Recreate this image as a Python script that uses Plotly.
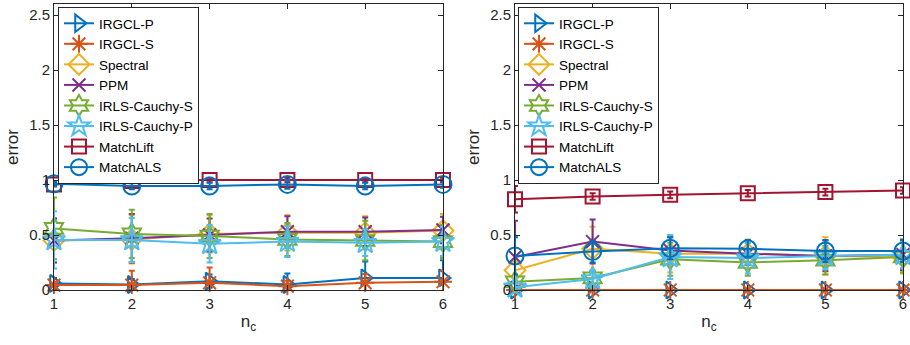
import plotly.graph_objects as go
from plotly.subplots import make_subplots

nc = [1, 2, 3, 4, 5, 6]
methods = ["IRGCL-P", "IRGCL-S", "Spectral", "PPM", "IRLS-Cauchy-S",
           "IRLS-Cauchy-P", "MatchLift", "MatchALS"]

# left panel: mean error and error-bar half widths
left_mean = {
    "IRGCL-P":       [0.06, 0.05, 0.08, 0.05, 0.11, 0.11],
    "IRGCL-S":       [0.045, 0.045, 0.065, 0.035, 0.065, 0.075],
    "Spectral":      [0.45, 0.46, 0.51, 0.52, 0.52, 0.54],
    "PPM":           [0.45, 0.47, 0.50, 0.53, 0.53, 0.545],
    "IRLS-Cauchy-S": [0.56, 0.51, 0.49, 0.46, 0.45, 0.44],
    "IRLS-Cauchy-P": [0.455, 0.455, 0.42, 0.44, 0.43, 0.44],
    "MatchLift":     [0.96, 0.99, 1.0, 1.0, 1.0, 1.0],
    "MatchALS":      [0.965, 0.945, 0.945, 0.96, 0.945, 0.96],
}
left_err = {
    "IRGCL-P":       [0.05, 0.05, 0.06, 0.10, 0.15, 0.16],
    "IRGCL-S":       [0.03, 0.13, 0.14, 0.05, 0.08, 0.10],
    "Spectral":      [0.20, 0.22, 0.17, 0.16, 0.15, 0.15],
    "PPM":           [0.20, 0.22, 0.15, 0.14, 0.13, 0.12],
    "IRLS-Cauchy-S": [0.28, 0.22, 0.20, 0.15, 0.18, 0.15],
    "IRLS-Cauchy-P": [0.26, 0.20, 0.17, 0.14, 0.12, 0.13],
    "MatchLift":     [0.02, 0.02, 0.02, 0.02, 0.02, 0.02],
    "MatchALS":      [0.02, 0.03, 0.03, 0.04, 0.03, 0.03],
}
# right panel
right_mean = {
    "IRGCL-P":       [0.0, 0.0, 0.0, 0.0, 0.0, 0.0],
    "IRGCL-S":       [0.0, 0.0, 0.0, 0.0, 0.0, 0.0],
    "Spectral":      [0.18, 0.375, 0.33, 0.33, 0.31, 0.30],
    "PPM":           [0.30, 0.44, 0.36, 0.33, 0.31, 0.32],
    "IRLS-Cauchy-S": [0.075, 0.11, 0.28, 0.25, 0.27, 0.30],
    "IRLS-Cauchy-P": [0.025, 0.10, 0.30, 0.29, 0.31, 0.32],
    "MatchLift":     [0.825, 0.85, 0.865, 0.88, 0.89, 0.905],
    "MatchALS":      [0.31, 0.35, 0.38, 0.375, 0.355, 0.355],
}
right_err = {
    "IRGCL-P":       [0.003, 0.003, 0.003, 0.003, 0.003, 0.003],
    "IRGCL-S":       [0.003, 0.003, 0.003, 0.003, 0.003, 0.003],
    "Spectral":      [0.10, 0.20, 0.17, 0.13, 0.17, 0.15],
    "PPM":           [0.33, 0.20, 0.12, 0.10, 0.14, 0.14],
    "IRLS-Cauchy-S": [0.05, 0.05, 0.15, 0.12, 0.13, 0.14],
    "IRLS-Cauchy-P": [0.03, 0.08, 0.20, 0.14, 0.12, 0.12],
    "MatchLift":     [0.12, 0.03, 0.03, 0.03, 0.03, 0.03],
    "MatchALS":      [0.17, 0.10, 0.10, 0.08, 0.10, 0.10],
}

colors = {
    "IRGCL-P": "#0072BD", "IRGCL-S": "#D95319", "Spectral": "#EDB120",
    "PPM": "#7E2F8E", "IRLS-Cauchy-S": "#77AC30", "IRLS-Cauchy-P": "#4DBEEE",
    "MatchLift": "#A2142F", "MatchALS": "#0072BD",
}
symbols = {
    "IRGCL-P": "triangle-right-open", "IRGCL-S": "asterisk-open",
    "Spectral": "diamond-open", "PPM": "x-thin-open",
    "IRLS-Cauchy-S": "hexagram-open", "IRLS-Cauchy-P": "star-open",
    "MatchLift": "square-open", "MatchALS": "circle-open",
}
sizes = {
    "IRGCL-P": 15, "IRGCL-S": 15, "Spectral": 16, "PPM": 13,
    "IRLS-Cauchy-S": 16, "IRLS-Cauchy-P": 17, "MatchLift": 14, "MatchALS": 17,
}

FONT = "Helvetica, Liberation Sans, Arial, sans-serif"
TXT = "#262626"

fig = make_subplots(rows=1, cols=2, horizontal_spacing=0.085)

for col, (means, errs, leg) in enumerate(
        [(left_mean, left_err, "legend"), (right_mean, right_err, "legend2")], start=1):
    for m in methods:
        fig.add_trace(go.Scatter(
            x=nc, y=means[m], name=m, mode="lines+markers",
            line=dict(color=colors[m], width=2),
            marker=dict(symbol=symbols[m], size=sizes[m], color=colors[m],
                        line=dict(width=2, color=colors[m])),
            error_y=dict(type="data", array=errs[m], visible=True,
                         color=colors[m], thickness=2, width=3),
            legend=leg, cliponaxis=False,
        ), row=1, col=col)

W, H = 910, 345
L, R, T, B = 54, 7, 4, 55
pw = W - L - R
ph = H - T - B
d1 = [0, (443 - L) / pw]
d2 = [(515 - L) / pw, 1]

axis_common = dict(
    showgrid=False, zeroline=False, showline=True, linecolor="#262626",
    linewidth=1, mirror="ticks", ticks="inside", ticklen=5, tickwidth=1,
    tickcolor="#262626", tickfont=dict(family=FONT, size=15, color=TXT),
    automargin=False,
)
xax = dict(axis_common, range=[1, 6], tickvals=nc, ticktext=[str(v) for v in nc],
           title=dict(text="n<sub>c</sub>", font=dict(family=FONT, size=17, color=TXT),
                      standoff=4))
yax = dict(axis_common, range=[0, 2.6], tickvals=[0, 0.5, 1, 1.5, 2, 2.5],
           ticktext=["0", "0.5", "1", "1.5", "2", "2.5"],
           title=dict(text="error", font=dict(family=FONT, size=17, color=TXT),
                      standoff=6))

leg_top = (H - B - 7) / ph
leg_common = dict(xanchor="left", yanchor="top", y=leg_top,
                  bgcolor="white", bordercolor="#262626", borderwidth=1,
                  font=dict(family=FONT, size=13.5, color="black"),
                  tracegroupgap=0, itemwidth=30)

fig.update_layout(
    width=W, height=H, margin=dict(l=L, r=R, t=T, b=B),
    paper_bgcolor="white", plot_bgcolor="white",
    font=dict(family=FONT, size=14, color=TXT),
    xaxis=dict(xax, domain=d1), xaxis2=dict(xax, domain=d2),
    yaxis=dict(yax), yaxis2=dict(yax),
    legend=dict(leg_common, x=(58 - L) / pw),
    legend2=dict(leg_common, x=(518 - L) / pw),
)

fig.write_html("out.html", config={"displayModeBar": False},
               post_script="document.body.style.margin='0';document.body.style.overflow='hidden';")
